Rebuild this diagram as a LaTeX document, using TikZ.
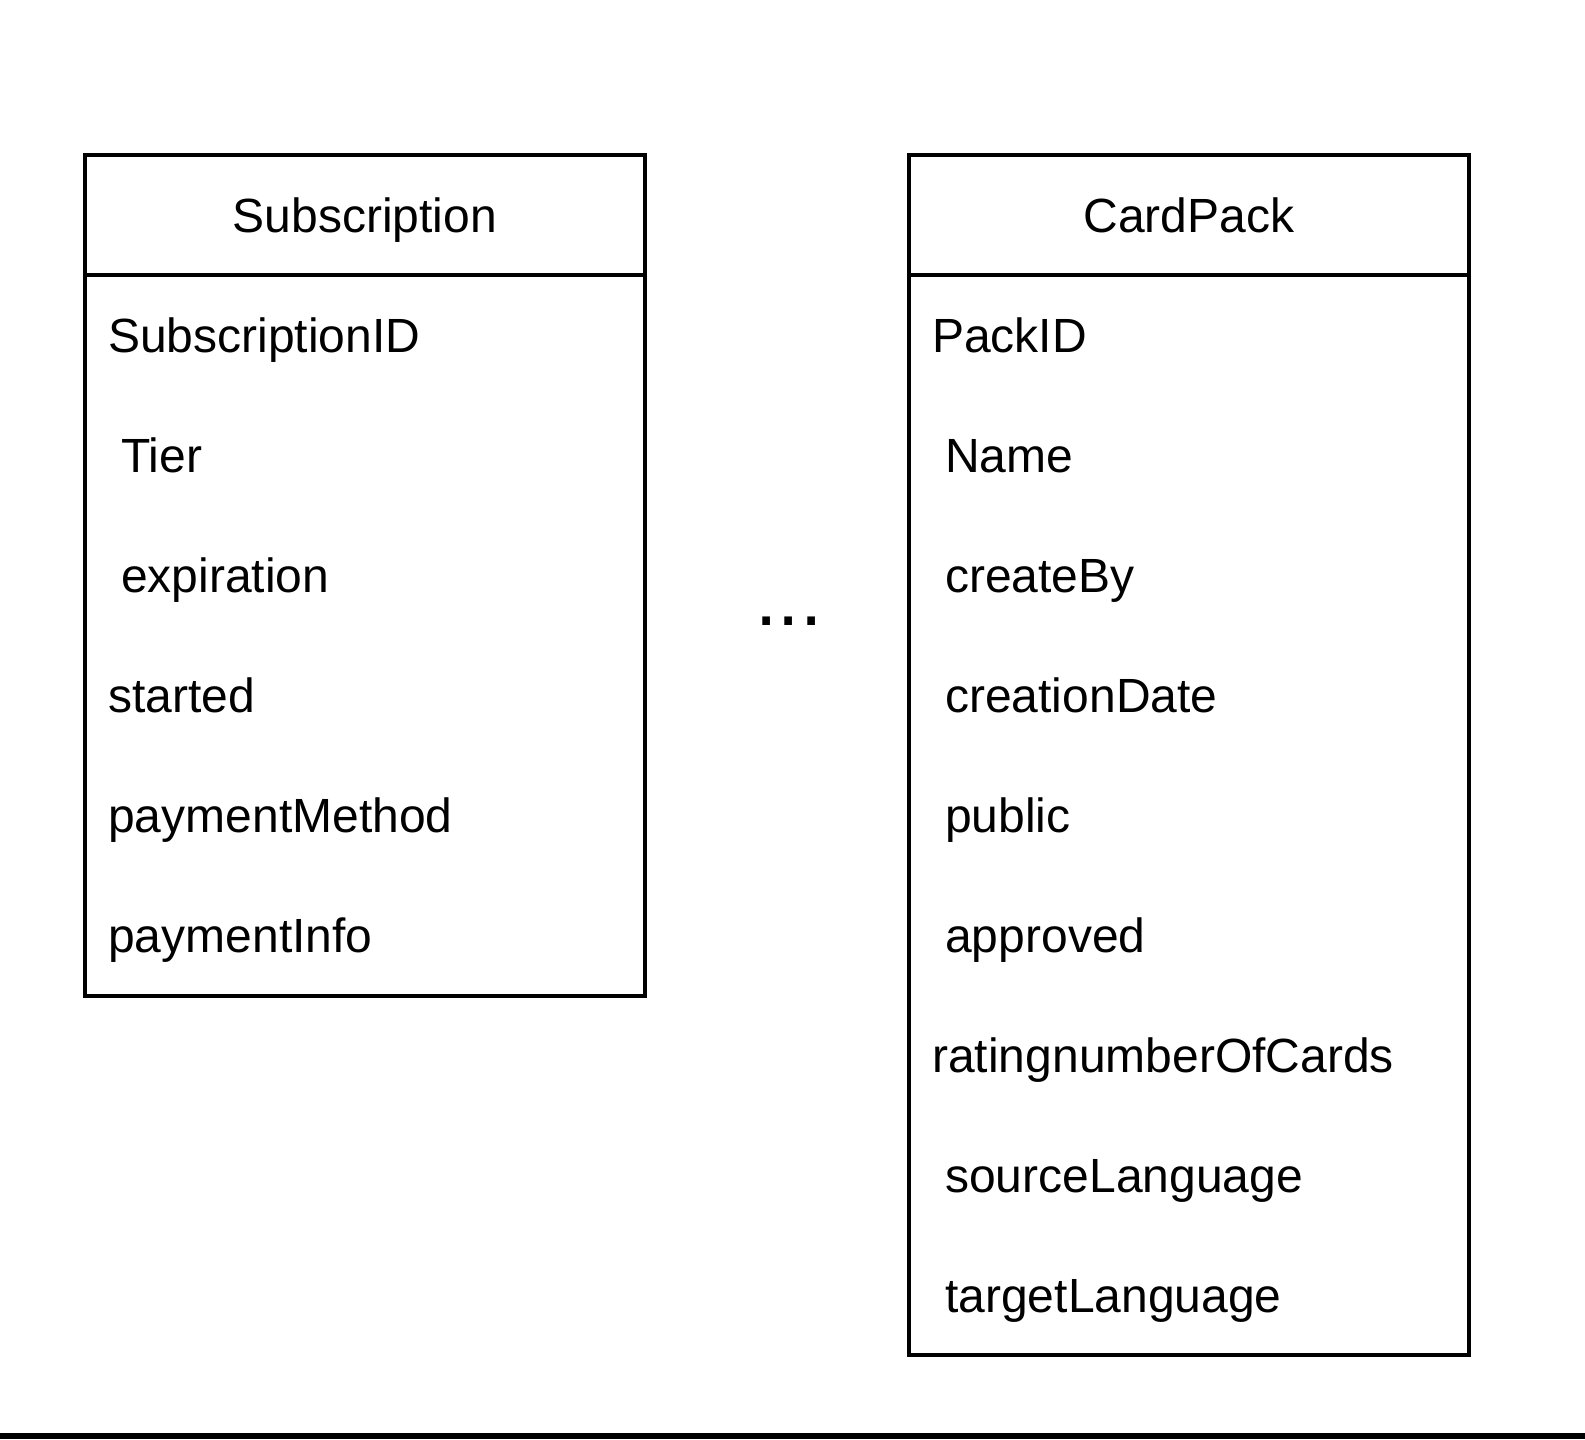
\documentclass[tikz,border=0pt]{standalone}
\usepackage{fontspec}
\setmainfont{Liberation Sans}
\begin{document}
\begin{tikzpicture}[x=0.75pt,y=-0.75pt,
  tbl/.style={draw=black,line width=3pt,rectangle,inner sep=0pt,outer sep=0pt},
  hdr/.style={anchor=base,inner sep=0pt,font=\fontsize{36pt}{43pt}\selectfont},
  attr/.style={anchor=base west,inner sep=0pt,font=\fontsize{36pt}{43pt}\selectfont},
  dots/.style={anchor=base,inner sep=0pt,font=\fontsize{60pt}{70pt}\selectfont}]
\useasboundingbox (0,0) rectangle (1585,1439);
% Subscription table
\node[tbl,minimum width=420pt,minimum height=630.75pt] (sub) at (365,575.5) {};
\draw[line width=3pt] (85,275) -- (645,275);
\node[hdr] (subh) at (365,232) {Subscription};
\node[attr] (s1) at (108,352) {SubscriptionID};
\node[attr] (s2) at (121,472) {Tier};
\node[attr] (s3) at (121,592) {expiration};
\node[attr] (s4) at (108,712) {started};
\node[attr] (s5) at (108,832) {paymentMethod};
\node[attr] (s6) at (108,952) {paymentInfo};
% dots
\node[dots] (ell) at (789,625) {...};
% CardPack table
\node[tbl,minimum width=420pt,minimum height=900pt] (cp) at (1189,755) {};
\draw[line width=3pt] (909,275) -- (1469,275);
\node[hdr] (cph) at (1189,232) {CardPack};
\node[attr] (c1) at (932,352) {PackID};
\node[attr] (c2) at (945,472) {Name};
\node[attr] (c3) at (945,592) {createBy};
\node[attr] (c4) at (945,712) {creationDate};
\node[attr] (c5) at (945,832) {public};
\node[attr] (c6) at (945,952) {approved};
\node[attr] (c7) at (932,1072) {ratingnumberOfCards};
\node[attr] (c8) at (945,1192) {sourceLanguage};
\node[attr] (c9) at (945,1312) {targetLanguage};
% bottom bar
\fill[black] (0,1433) rectangle (1585,1439);
\end{tikzpicture}
\end{document}
